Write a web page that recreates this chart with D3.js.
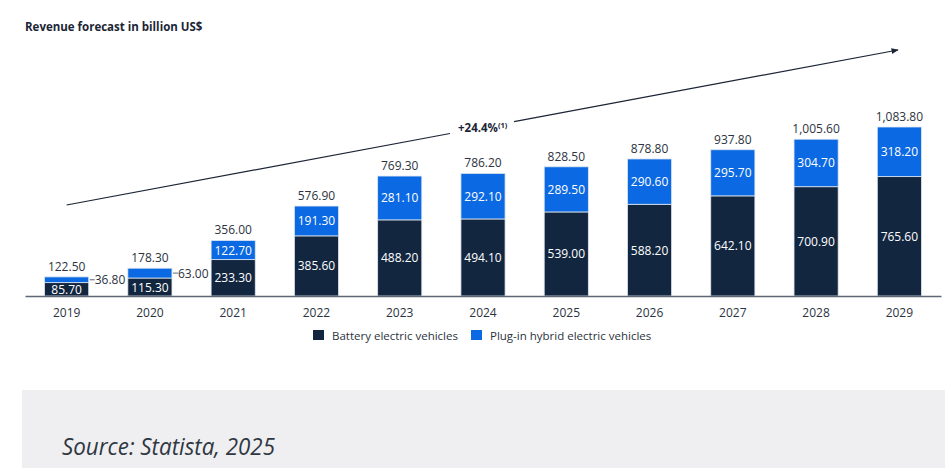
<!DOCTYPE html>
<html>
<head>
<meta charset="utf-8">
<script src="https://cdn.jsdelivr.net/npm/d3@7"></script>
<style>
  body { margin: 0; background: #fff; }
  svg { display: block; font-family: "Open Sans", sans-serif; }
</style>
</head>
<body>
<div id="chart"></div>
<script>
(function () {
    // data
    const years = ["2019", "2020", "2021", "2022", "2023", "2024", "2025", "2026", "2027", "2028", "2029"];
    const battery = [85.7, 115.3, 233.3, 385.6, 488.2, 494.1, 539.0, 588.2, 642.1, 700.9, 765.6];
    const plugin = [36.8, 63.0, 122.7, 191.3, 281.1, 292.1, 289.5, 290.6, 295.7, 304.7, 318.2];
    const totals = [122.5, 178.3, 356.0, 576.9, 769.3, 786.2, 828.5, 878.8, 937.8, 1005.6, 1083.8];
    const seriesNames = ["Battery electric vehicles", "Plug-in hybrid electric vehicles"];
    const cagrLabel = "+24.4%";

    const width = 945, height = 468;
    const navy = "#12263f", blue = "#0b69e3", textCol = "#2b3340";
    const fmt = d3.format(",.2f");

    const svg = d3.select("#chart").append("svg")
        .attr("width", width).attr("height", height);

    var x = d3.scaleBand().domain(years).range([25, 941]).paddingInner(0.47).paddingOuter(0.235);
    var y = d3.scaleLinear().domain([0, d3.max(totals)]).range([296, 127]);

    const rows = years.map((yr, i) => ({ year: yr, bev: battery[i], phev: plugin[i], total: totals[i] }));

    //title
    svg.append("text").attr("x", 25).attr("y", 31)
        .attr("font-size", 11.5).attr("font-weight", 700).attr("fill", "#1b2535")
        .text("Revenue forecast in billion US$");

    // bars
    const g = svg.append("g");
    g.selectAll("rect.bev").data(rows).join("rect")
        .attr("class", "bev")
        .attr("x", d => x(d.year)).attr("width", x.bandwidth())
        .attr("y", d => y(d.bev)).attr("height", d => y(0) - y(d.bev))
        .attr("fill", navy).attr("stroke", "#dfe6ef").attr("stroke-width", 0.8);
    g.selectAll("rect.phev").data(rows).join("rect")
        .attr("class", "phev")
        .attr("x", d => x(d.year)).attr("width", x.bandwidth())
        .attr("y", d => y(d.bev + d.phev)).attr("height", d => y(d.bev) - y(d.bev + d.phev))
        .attr("fill", blue).attr("stroke", "#dfe6ef").attr("stroke-width", 0.8);

    // axis
    const axis = svg.append("g").attr("transform", "translate(0," + y(0) + ")")
        .call(d3.axisBottom(x).tickSize(0).tickPadding(12));
    axis.select(".domain").attr("stroke", "#5d6776").attr("stroke-width", 1.5);
    axis.selectAll("text").attr("font-size", 12).attr("fill", textCol).attr("font-family", "Open Sans");

    // labels
    const small = d => y(0) - y(d.phev) < 14;
    g.selectAll("text.tot").data(rows).join("text")
        .attr("x", d => x(d.year) + x.bandwidth() / 2).attr("y", d => y(d.total) - 6)
        .attr("text-anchor", "middle").attr("font-size", 12).attr("fill", textCol)
        .text(d => fmt(d.total));
    g.selectAll("text.bevl").data(rows).join("text")
        .attr("x", d => x(d.year) + x.bandwidth() / 2)
        .attr("y", d => (y(0) + y(d.bev)) / 2 + 4.5)
        .attr("text-anchor", "middle").attr("font-size", 12).attr("fill", "#fff")
        .text(d => fmt(d.bev));
    g.selectAll("text.phevl").data(rows).join("text")
        .attr("x", d => small(d) ? x(d.year) + x.bandwidth() + 6 : x(d.year) + x.bandwidth() / 2)
        .attr("y", d => (y(d.bev) + y(d.bev + d.phev)) / 2 + 4.5)
        .attr("text-anchor", d => small(d) ? "start" : "middle")
        .attr("font-size", 12).attr("fill", d => small(d) ? textCol : "#fff")
        .text(d => fmt(d.phev));
    g.selectAll("line.lead").data(rows.filter(small)).join("line")
        .attr("x1", d => x(d.year) + x.bandwidth() + 1).attr("x2", d => x(d.year) + x.bandwidth() + 6)
        .attr("y1", d => (y(d.bev) + y(d.bev + d.phev)) / 2)
        .attr("y2", d => (y(d.bev) + y(d.bev + d.phev)) / 2)
        .attr("stroke", "#5d6776").attr("stroke-width", 1);

    // growth arrow
    svg.append("defs").append("marker").attr("id", "arr")
        .attr("viewBox", "0 0 10 10").attr("refX", 9).attr("refY", 5)
        .attr("markerWidth", 6).attr("markerHeight", 6).attr("orient", "auto")
        .append("path").attr("d", "M0,1 L10,5 L0,9 Z").attr("fill", "#1b2535");
    const ax0 = x("2019") + x.bandwidth() / 2, ay0 = 205, ax1 = 898, ay1 = 50;
    const at = t => [ax0 + (ax1 - ax0) * t, ay0 + (ay1 - ay0) * t];
    const gap0 = at((450 - ax0) / (ax1 - ax0)), gap1 = at((514 - ax0) / (ax1 - ax0));
    svg.append("line").attr("x1", ax0).attr("y1", ay0).attr("x2", gap0[0]).attr("y2", gap0[1])
        .attr("stroke", "#1b2535").attr("stroke-width", 1.2);
    svg.append("line").attr("x1", gap1[0]).attr("y1", gap1[1]).attr("x2", ax1).attr("y2", ay1)
        .attr("stroke", "#1b2535").attr("stroke-width", 1.2).attr("marker-end", "url(#arr)");
    const cg = svg.append("text").attr("x", 458).attr("y", 132)
        .attr("font-size", 11.5).attr("font-weight", 700).attr("fill", "#1b2535");
    cg.append("tspan").text(cagrLabel);
    cg.append("tspan").attr("font-size", 7.5).attr("dy", -4).text("(1)");

    // legend
    const leg = svg.append("g").attr("transform", "translate(313,330)");
    const lx = [0, 158];
    seriesNames.forEach((n, i) => {
        leg.append("rect").attr("x", lx[i]).attr("y", 0).attr("width", 11).attr("height", 10)
            .attr("fill", i ? blue : navy);
        leg.append("text").attr("x", lx[i] + 19).attr("y", 9.5)
            .attr("font-size", 11.5).attr("fill", textCol).text(n);
    });

    // footer
    svg.append("rect").attr("x", 22).attr("y", 390).attr("width", width - 22).attr("height", 78)
        .attr("fill", "#efeff1");
    svg.append("text").attr("x", 62).attr("y", 455)
        .attr("font-size", 23).attr("font-style", "italic").attr("fill", "#2f3742")
        .attr("textLength", 213).attr("lengthAdjust", "spacingAndGlyphs")
        .text("Source: Statista, 2025");
})();
</script>
</body>
</html>
